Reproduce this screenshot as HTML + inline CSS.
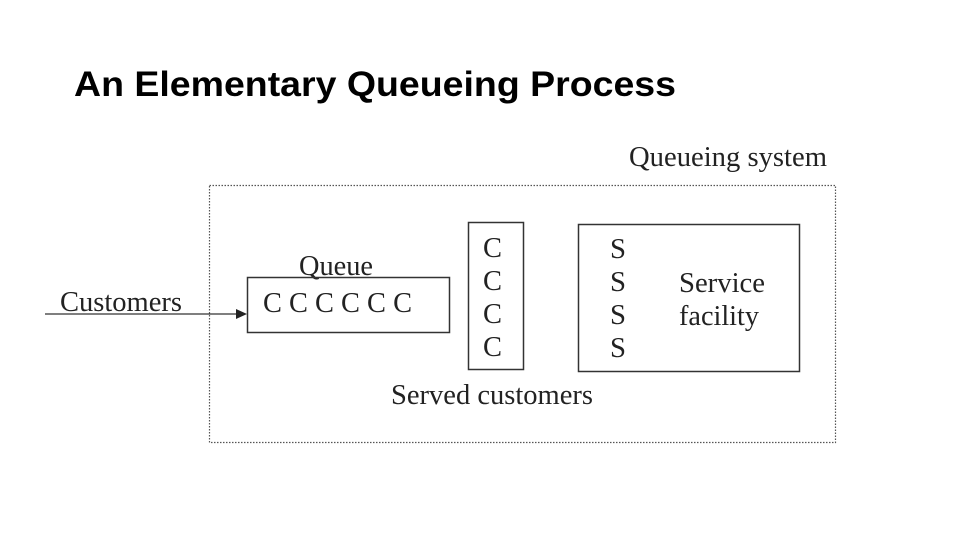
<!DOCTYPE html>
<html><head><meta charset="utf-8"><style>
html,body{margin:0;padding:0;background:#fff;}
svg{display:block;}
</style></head><body>
<svg width="960" height="540" viewBox="0 0 960 540" xmlns="http://www.w3.org/2000/svg">
<rect width="960" height="540" fill="#fff"/>
<text x="74" y="96" font-family="Liberation Sans, sans-serif" font-weight="bold" font-size="35" textLength="602" lengthAdjust="spacingAndGlyphs" fill="#000">An Elementary Queueing Process</text>
<g font-family="Liberation Serif, serif" fill="#222" font-size="28">
<text x="629" y="166" textLength="198" lengthAdjust="spacingAndGlyphs">Queueing system</text>
<text x="60" y="311" textLength="122" lengthAdjust="spacingAndGlyphs">Customers</text>
<text x="299" y="275" textLength="74" lengthAdjust="spacingAndGlyphs">Queue</text>
<text x="263" y="312" textLength="149" lengthAdjust="spacingAndGlyphs">C C C C C C</text>
<text x="483" y="257" textLength="19" lengthAdjust="spacingAndGlyphs">C</text>
<text x="483" y="290" textLength="19" lengthAdjust="spacingAndGlyphs">C</text>
<text x="483" y="323" textLength="19" lengthAdjust="spacingAndGlyphs">C</text>
<text x="483" y="356" textLength="19" lengthAdjust="spacingAndGlyphs">C</text>
<text x="610" y="258" textLength="16" lengthAdjust="spacingAndGlyphs">S</text>
<text x="610" y="291" textLength="16" lengthAdjust="spacingAndGlyphs">S</text>
<text x="610" y="324" textLength="16" lengthAdjust="spacingAndGlyphs">S</text>
<text x="610" y="357" textLength="16" lengthAdjust="spacingAndGlyphs">S</text>
<text x="679" y="292" textLength="86" lengthAdjust="spacingAndGlyphs">Service</text>
<text x="679" y="325" textLength="80" lengthAdjust="spacingAndGlyphs">facility</text>
<text x="391" y="404" textLength="202" lengthAdjust="spacingAndGlyphs">Served customers</text>
</g>
<rect x="209.5" y="185.5" width="626" height="257" fill="none" stroke="#555" stroke-width="1.2" stroke-dasharray="1.5,1.5"/>
<rect x="247.5" y="277.5" width="202" height="55" fill="none" stroke="#333" stroke-width="1.5"/>
<rect x="468.5" y="222.5" width="55" height="147" fill="none" stroke="#333" stroke-width="1.5"/>
<rect x="578.5" y="224.5" width="221" height="147" fill="none" stroke="#333" stroke-width="1.5"/>
<line x1="45" y1="314" x2="238" y2="314" stroke="#333" stroke-width="1.3"/>
<polygon points="247,314 236,309 236,319" fill="#222"/>
</svg>
</body></html>
